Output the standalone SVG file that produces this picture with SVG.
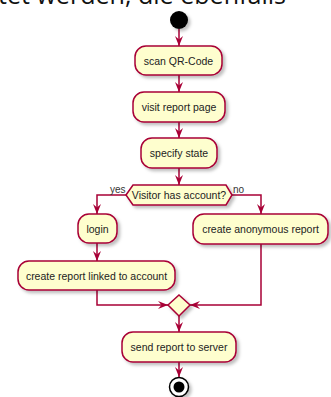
<svg xmlns="http://www.w3.org/2000/svg" width="331" height="397" viewBox="0 0 331 397">
<style>
.box{fill:#FEFECE;stroke:#A80036;stroke-width:1.5;filter:url(#sh)}
.lbl{font-family:"Liberation Sans",Arial,sans-serif;font-size:10.5px;fill:#222;text-anchor:middle}
.edge{fill:none;stroke:#A80036;stroke-width:1.5}
.small{font-family:"Liberation Sans",Arial,sans-serif;font-size:10px;fill:#333}
</style>
<defs>
<filter id="sh" x="-20%" y="-30%" width="150%" height="180%">
<feDropShadow dx="2.5" dy="2.5" stdDeviation="1.5" flood-color="#000" flood-opacity="0.25"/>
</filter>
<marker id="ah" markerUnits="userSpaceOnUse" markerWidth="10" markerHeight="10" viewBox="0 0 10 10" refX="10" refY="5" orient="auto">
<path d="M0,1 L10,5 L0,9 L3.5,5 Z" fill="#A80036"/>
</marker>
</defs>
<rect width="331" height="397" fill="#fff"/>
<text x="-2" y="4" font-family="'Open Sans','Liberation Sans',sans-serif" font-size="26" fill="#111" textLength="288" lengthAdjust="spacingAndGlyphs">tet werden, die ebenfalls</text>

<g id="connectors">
<line class="edge" x1="179" y1="29" x2="179" y2="46" marker-end="url(#ah)"/>
<line class="edge" x1="179" y1="75" x2="179" y2="92" marker-end="url(#ah)"/>
<line class="edge" x1="179" y1="122" x2="179" y2="138" marker-end="url(#ah)"/>
<line class="edge" x1="179" y1="168" x2="179" y2="185" marker-end="url(#ah)"/>
<polyline class="edge" points="126,195 97,195 97,214" marker-end="url(#ah)"/>
<polyline class="edge" points="232,195 261,195 261,214" marker-end="url(#ah)"/>
<line class="edge" x1="97" y1="243" x2="97" y2="261" marker-end="url(#ah)"/>
<polyline class="edge" points="97,290 97,305 168,305" marker-end="url(#ah)"/>
<polyline class="edge" points="261,244 261,305 190,305" marker-end="url(#ah)"/>
<line class="edge" x1="179" y1="316" x2="179" y2="332" marker-end="url(#ah)"/>
<line class="edge" x1="179" y1="362" x2="179" y2="377" marker-end="url(#ah)"/>
<text class="small" x="110" y="193">yes</text>
<text class="small" x="233" y="193">no</text>
</g>

<g id="start"><circle cx="179" cy="20" r="9" fill="#000" filter="url(#sh)"/></g>

<g id="scan"><rect class="box" x="135" y="46" width="87" height="29" rx="11"/><text class="lbl" x="178.5" y="64.5">scan QR-Code</text></g>
<g id="visit"><rect class="box" x="133" y="92" width="92" height="30" rx="11"/><text class="lbl" x="179" y="110.7">visit report page</text></g>
<g id="specify"><rect class="box" x="141" y="138" width="76" height="30" rx="11"/><text class="lbl" x="179" y="156.7">specify state</text></g>
<g id="decision"><polygon class="box" points="126,195 133,185 226,185 232,195 226,205 133,205"/><text class="lbl" x="179" y="198.7">Visitor has account?</text></g>
<g id="login"><rect class="box" x="78" y="214" width="39" height="29" rx="11"/><text class="lbl" x="97.5" y="232.5">login</text></g>
<g id="anon"><rect class="box" x="193" y="214" width="135" height="30" rx="11"/><text class="lbl" x="260.5" y="232.7">create anonymous report</text></g>
<g id="linked"><rect class="box" x="18" y="261" width="157" height="29" rx="11"/><text class="lbl" x="96.5" y="279.5">create report linked to account</text></g>
<g id="merge"><polygon class="box" points="179,295 190,305 179,316 168,305"/></g>
<g id="send"><rect class="box" x="122" y="332" width="114" height="30" rx="11"/><text class="lbl" x="179" y="350.7">send report to server</text></g>
<g id="end"><circle cx="179" cy="387" r="9.5" fill="#fff" stroke="#000" stroke-width="1.5" filter="url(#sh)"/><circle cx="179" cy="387" r="5.5" fill="#000"/></g>
</svg>
